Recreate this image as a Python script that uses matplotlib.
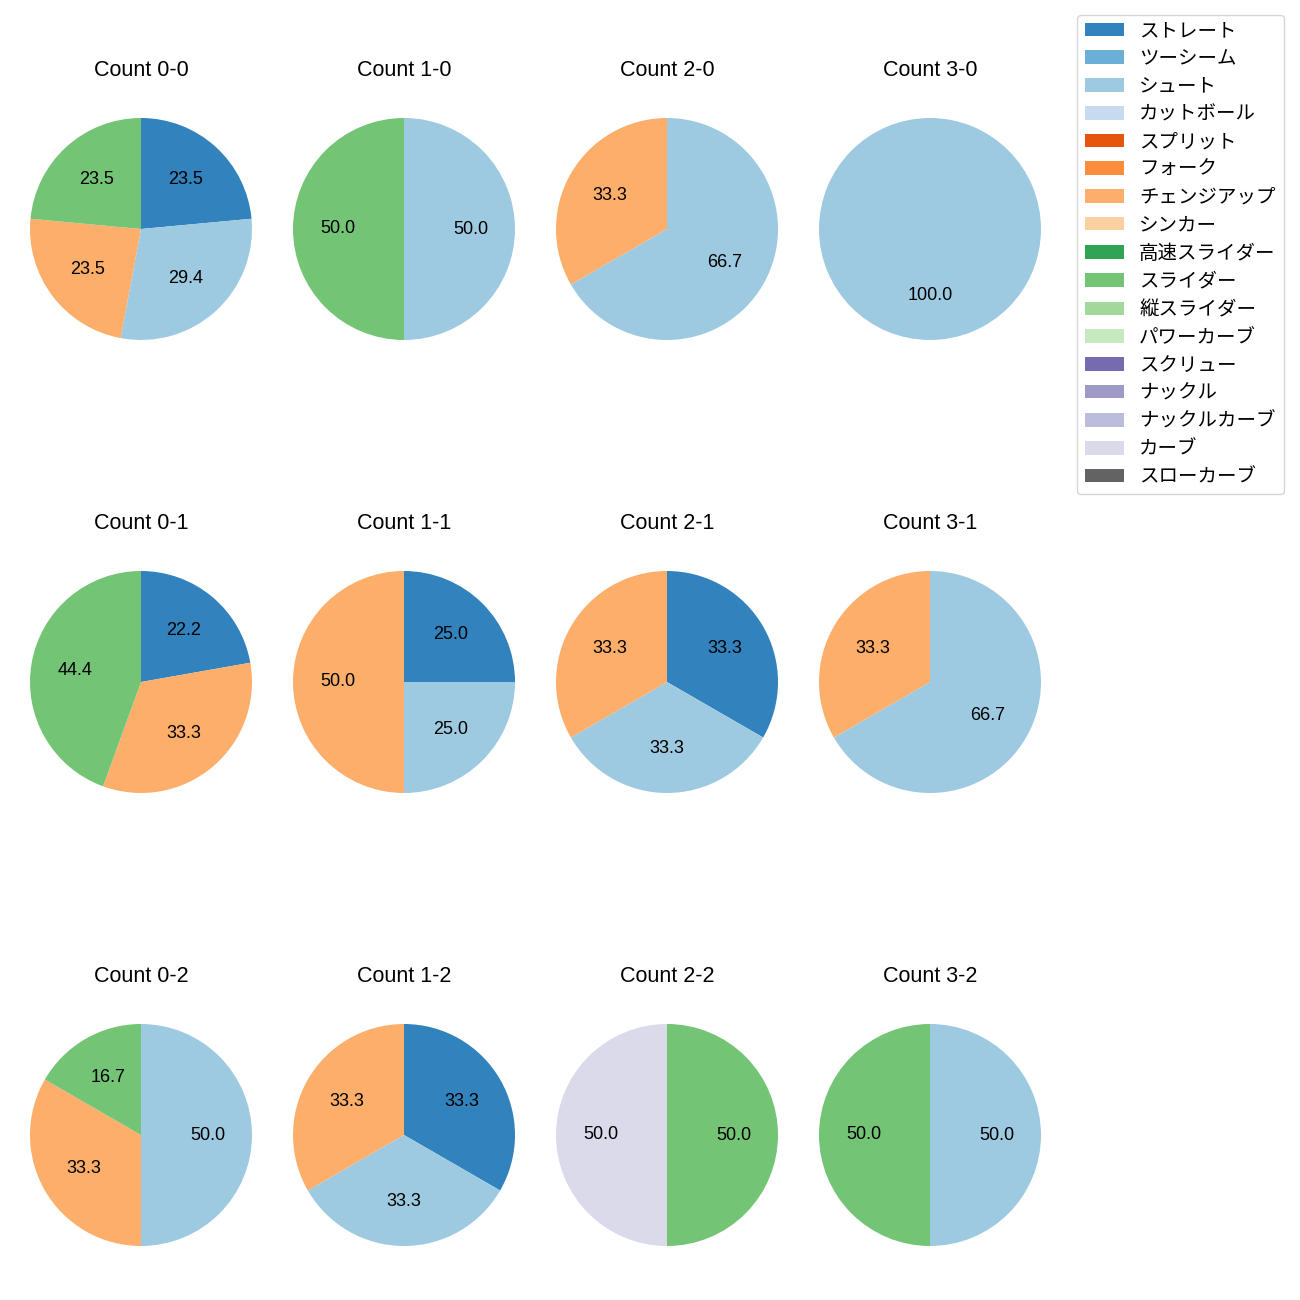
import matplotlib
matplotlib.use("Agg")
import matplotlib.pyplot as plt
from matplotlib.patches import Patch

plt.rcParams['font.family'] = ['Liberation Sans', 'Noto Sans CJK JP', 'DejaVu Sans']

pitch_types = ['ストレート', 'ツーシーム', 'シュート', 'カットボール', 'スプリット', 'フォーク',
               'チェンジアップ', 'シンカー', '高速スライダー', 'スライダー', '縦スライダー',
               'パワーカーブ', 'スクリュー', 'ナックル', 'ナックルカーブ', 'カーブ', 'スローカーブ']

cmap = plt.get_cmap('tab20c')
colors = {p: cmap(i) for i, p in enumerate(pitch_types)}

# counts per (balls-strikes): pitch type -> count
count_labels = ['0-0', '1-0', '2-0', '3-0',
                '0-1', '1-1', '2-1', '3-1',
                '0-2', '1-2', '2-2', '3-2']
count_data = [
    {'ストレート': 4, 'シュート': 5, 'チェンジアップ': 4, 'スライダー': 4},
    {'シュート': 1, 'スライダー': 1},
    {'シュート': 2, 'チェンジアップ': 1},
    {'シュート': 1},
    {'ストレート': 2, 'チェンジアップ': 3, 'スライダー': 4},
    {'ストレート': 1, 'シュート': 1, 'チェンジアップ': 2},
    {'ストレート': 1, 'シュート': 1, 'チェンジアップ': 1},
    {'シュート': 2, 'チェンジアップ': 1},
    {'シュート': 3, 'チェンジアップ': 2, 'スライダー': 1},
    {'ストレート': 1, 'シュート': 1, 'チェンジアップ': 1},
    {'スライダー': 1, 'カーブ': 1},
    {'シュート': 1, 'スライダー': 1},
]

W = H = 1300
fig = plt.figure(figsize=(13, 13), dpi=100)
size = 277.5
centers_x = [141, 404, 667, 930]
centers_y = [229, 682, 1135]

for i, (lab, d) in enumerate(zip(count_labels, count_data)):
    r, c = divmod(i, 4)
    cx, cy = centers_x[c], centers_y[r]
    ax = fig.add_axes([(cx - size / 2) / W, 1 - (cy + size / 2) / H, size / W, size / H])
    names = [p for p in pitch_types if p in d]
    vals = [d[p] for p in names]
    ax.pie(vals, colors=[colors[p] for p in names], autopct='%.1f',
           startangle=90, counterclock=False, textprops={'fontsize': 13})
    ax.set_title(f'Count {lab}', fontsize=15.5, pad=10)

handles = [Patch(facecolor=colors[p], label=p) for p in pitch_types]
fig.legend(handles=handles, loc='upper left', bbox_to_anchor=(1077 / W, 1 - 15 / H),
           fontsize=14, labelspacing=0.52, borderaxespad=0)

fig.savefig('out.png', dpi=100)
